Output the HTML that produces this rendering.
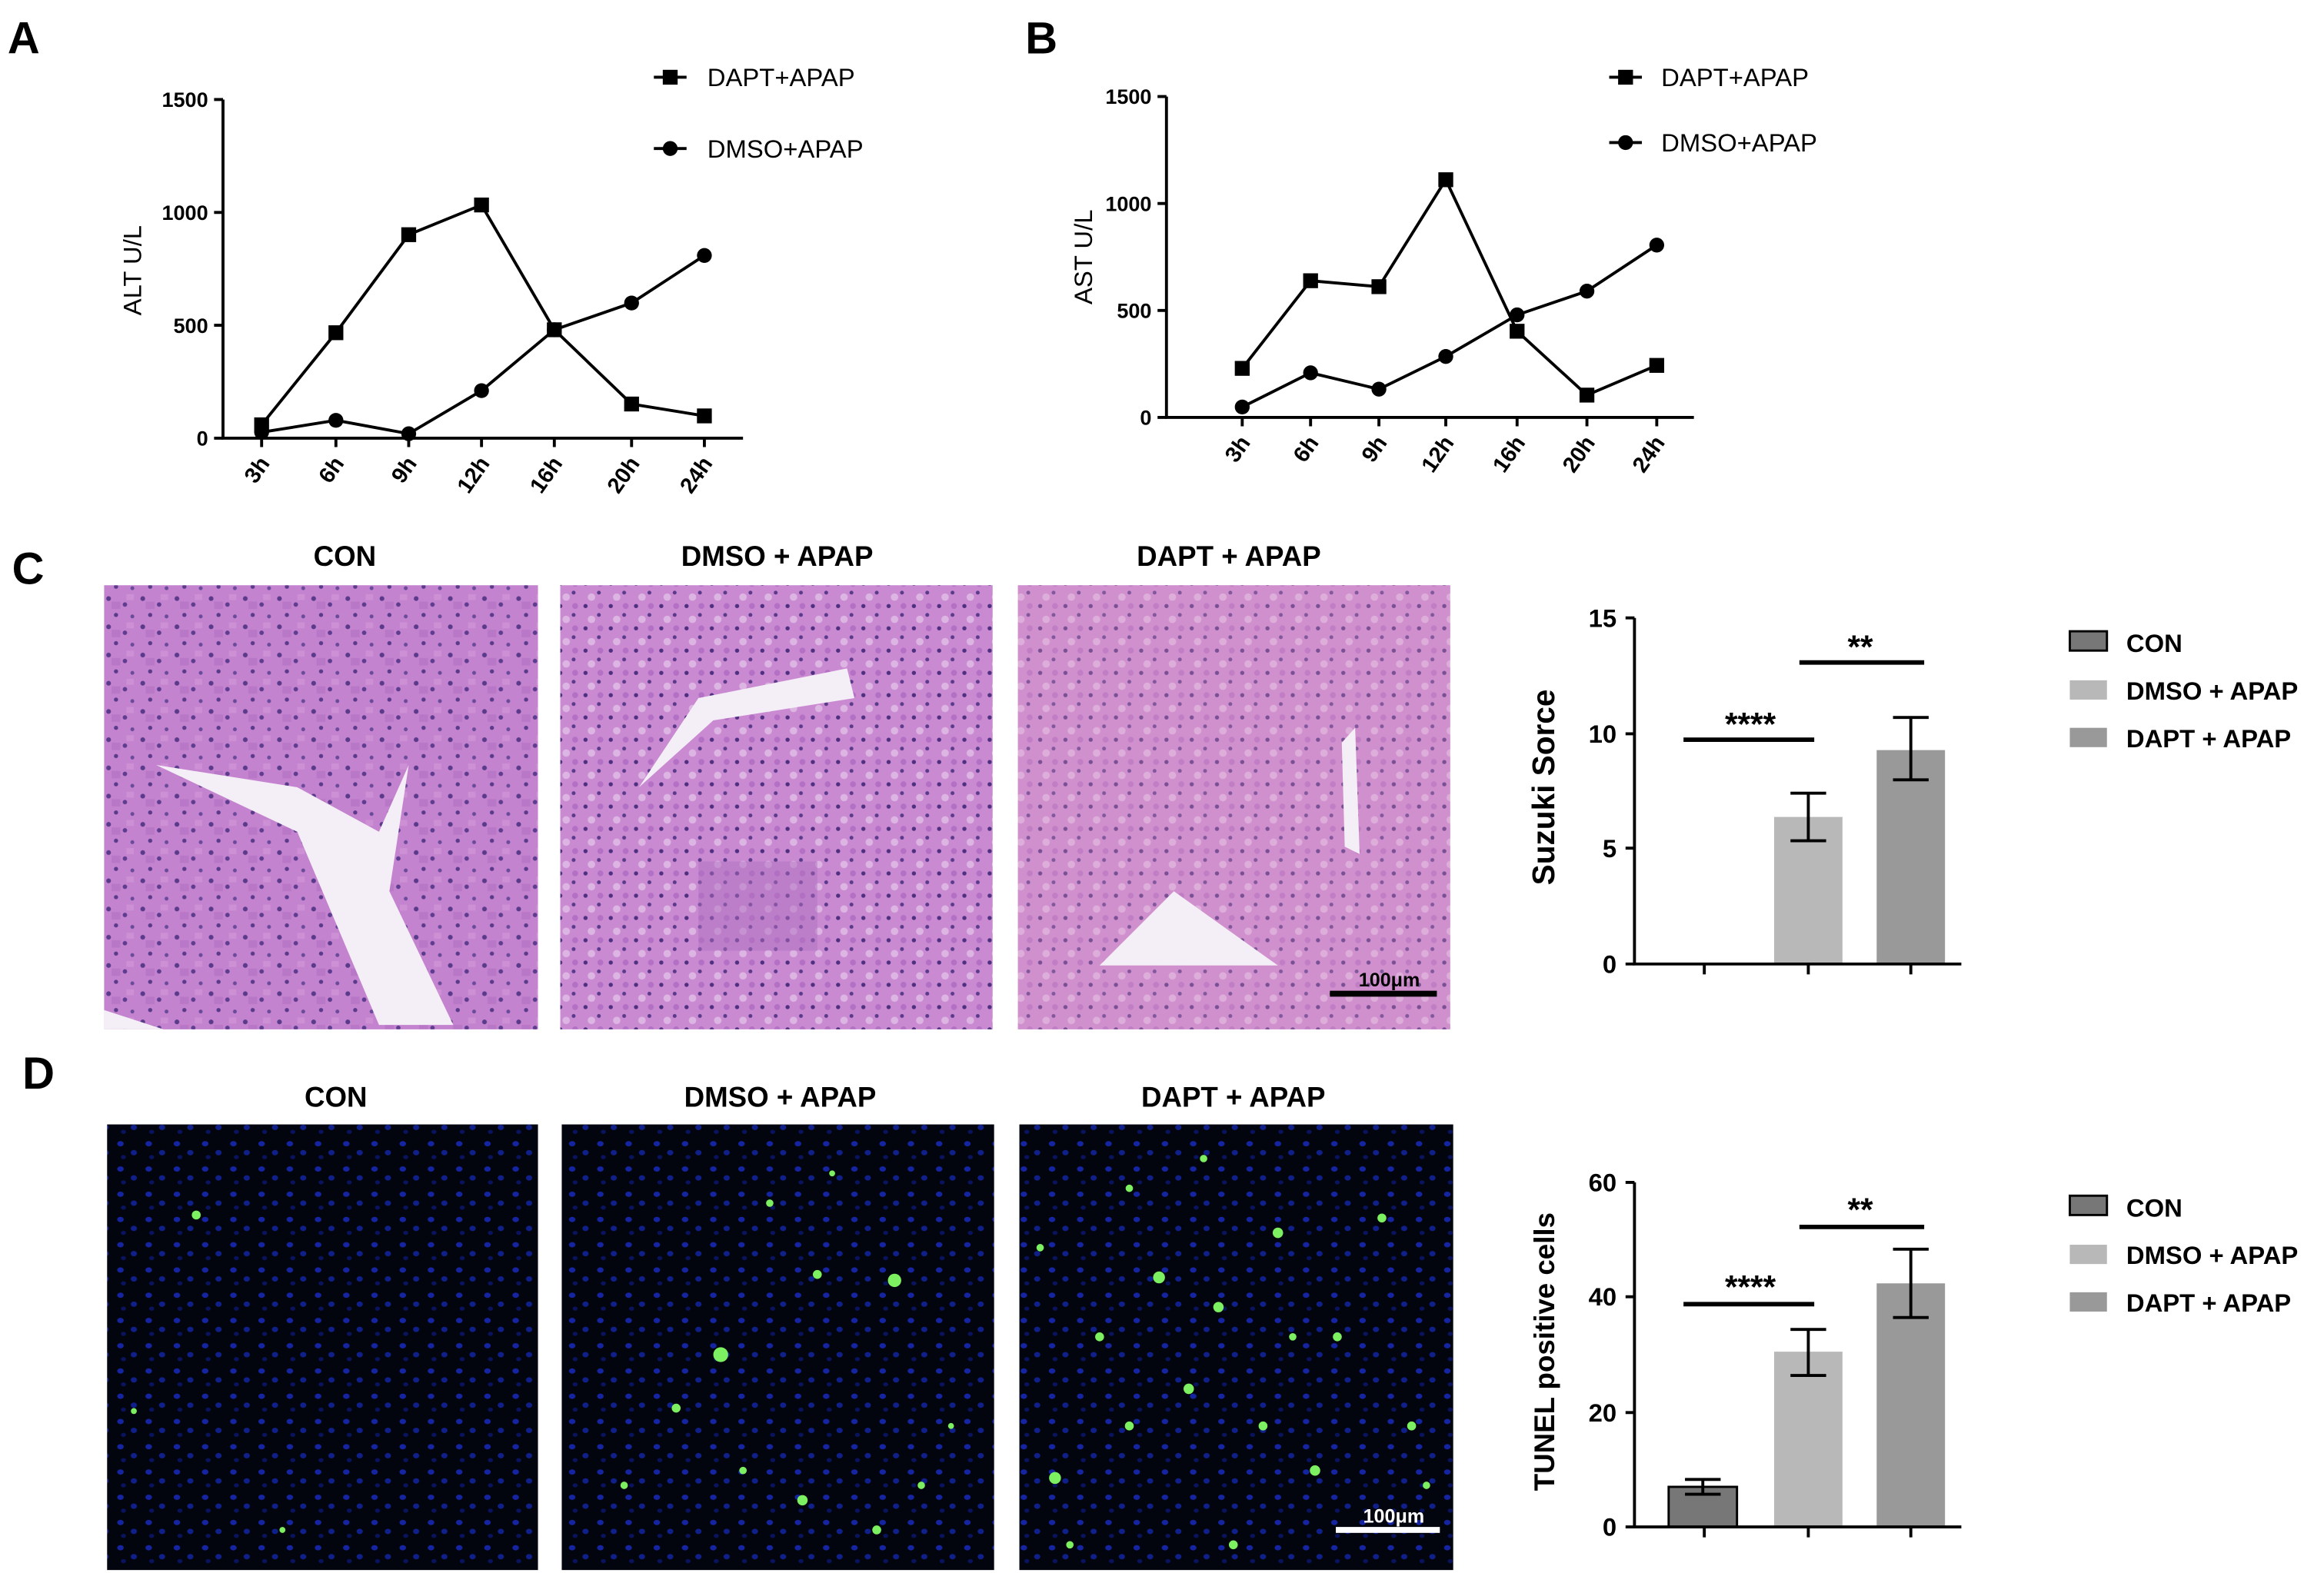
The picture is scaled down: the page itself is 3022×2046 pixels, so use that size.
<!DOCTYPE html>
<html><head><meta charset="utf-8"><style>
html,body{margin:0;padding:0;background:#fff;}
svg{display:block;}
text{font-family:"Liberation Sans",Arial,sans-serif;}
</style></head><body>
<svg width="3022" height="2046" viewBox="0 0 1564 1059" xmlns="http://www.w3.org/2000/svg">
<defs>
<pattern id="he" width="23" height="19" patternUnits="userSpaceOnUse">
<rect width="23" height="19" fill="#c483cf"/>
<circle cx="4" cy="4" r="1.6" fill="#5a3a8a"/><circle cx="15" cy="8" r="1.5" fill="#5e3d90"/>
<circle cx="9" cy="15" r="1.4" fill="#5a3a8a"/><circle cx="20" cy="16" r="1.3" fill="#6a4a9a"/>
<rect x="6" y="6" width="6" height="5" fill="#b26fc2" opacity=".6"/>
<rect x="16" y="1" width="5" height="4" fill="#d49ad9" opacity=".6"/>
</pattern>
<pattern id="he2" width="17" height="15" patternUnits="userSpaceOnUse">
<rect width="17" height="15" fill="#c98ad2"/>
<circle cx="3" cy="3" r="1.4" fill="#4e2f80"/><circle cx="12" cy="9" r="1.3" fill="#5a3a8a"/>
<circle cx="7" cy="12" r="2.5" fill="#e6c8ea" opacity=".7"/><circle cx="13" cy="3" r="2" fill="#a65fbd" opacity=".6"/>
</pattern>
<pattern id="fl" width="19" height="17" patternUnits="userSpaceOnUse">
<rect width="19" height="17" fill="#02040e"/>
<ellipse cx="5" cy="5" rx="2.2" ry="1.8" fill="#1524a0"/><ellipse cx="14" cy="11" rx="2.1" ry="1.8" fill="#10208a"/>
<ellipse cx="7" cy="14" rx="1.7" ry="1.4" fill="#0c1a80" opacity=".7"/>
</pattern>
</defs>
<rect width="1564" height="1059" fill="#fff"/>
<g font-weight="bold" font-size="30" fill="#000">
<text x="5" y="36">A</text><text x="690" y="36">B</text><text x="8" y="393">C</text><text x="15" y="733">D</text></g>

<!-- Panel A -->
<g stroke="#000" stroke-width="2" fill="none">
<path d="M150 67V295H500"/>
<path d="M144 67H150M144 143H150M144 219H150M144 295H150"/>
<path d="M176 295v6M226 295v6M275 295v6M324 295v6M373 295v6M425 295v6M474 295v6"/>
<polyline points="176,286 226,224 275,158 324,138 373,222 425,272 474,280"/>
<polyline points="176,291 226,283 275,292 324,263 373,222 425,204 474,172"/>
<path d="M440 52h22M440 100h22"/>
</g>
<g fill="#000">
<rect x="171" y="281" width="10" height="10"/><rect x="221" y="219" width="10" height="10"/><rect x="270" y="153" width="10" height="10"/><rect x="319" y="133" width="10" height="10"/><rect x="368" y="217" width="10" height="10"/><rect x="420" y="267" width="10" height="10"/><rect x="469" y="275" width="10" height="10"/>
<circle cx="176" cy="291" r="5"/><circle cx="226" cy="283" r="5"/><circle cx="275" cy="292" r="5"/><circle cx="324" cy="263" r="5"/><circle cx="373" cy="222" r="5"/><circle cx="425" cy="204" r="5"/><circle cx="474" cy="172" r="5"/>
<rect x="446" y="47" width="10" height="10"/><circle cx="451" cy="100" r="5"/>
</g>
<g font-size="14" font-weight="bold" text-anchor="end">
<text x="140" y="72">1500</text><text x="140" y="148">1000</text><text x="140" y="224">500</text><text x="140" y="300">0</text></g>
<g font-size="15" font-weight="bold" text-anchor="end">
<text transform="translate(182,312) rotate(-55)">3h</text><text transform="translate(232,312) rotate(-55)">6h</text><text transform="translate(281,312) rotate(-55)">9h</text><text transform="translate(330,312) rotate(-55)">12h</text><text transform="translate(379,312) rotate(-55)">16h</text><text transform="translate(431,312) rotate(-55)">20h</text><text transform="translate(480,312) rotate(-55)">24h</text></g>
<text transform="translate(95,182) rotate(-90)" font-size="17" text-anchor="middle">ALT U/L</text>
<text x="476" y="58" font-size="17">DAPT+APAP</text><text x="476" y="106" font-size="17">DMSO+APAP</text>

<!-- Panel B -->
<g stroke="#000" stroke-width="2" fill="none">
<path d="M785 65V281H1140"/>
<path d="M779 65H785M779 137H785M779 209H785M779 281H785"/>
<path d="M836 281v6M882 281v6M928 281v6M973 281v6M1021 281v6M1068 281v6M1115 281v6"/>
<polyline points="836,248 882,189 928,193 973,121 1021,223 1068,266 1115,246"/>
<polyline points="836,274 882,251 928,262 973,240 1021,212 1068,196 1115,165"/>
<path d="M1083 52h22M1083 96h22"/>
</g>
<g fill="#000">
<rect x="831" y="243" width="10" height="10"/><rect x="877" y="184" width="10" height="10"/><rect x="923" y="188" width="10" height="10"/><rect x="968" y="116" width="10" height="10"/><rect x="1016" y="218" width="10" height="10"/><rect x="1063" y="261" width="10" height="10"/><rect x="1110" y="241" width="10" height="10"/>
<circle cx="836" cy="274" r="5"/><circle cx="882" cy="251" r="5"/><circle cx="928" cy="262" r="5"/><circle cx="973" cy="240" r="5"/><circle cx="1021" cy="212" r="5"/><circle cx="1068" cy="196" r="5"/><circle cx="1115" cy="165" r="5"/>
<rect x="1089" y="47" width="10" height="10"/><circle cx="1094" cy="96" r="5"/>
</g>
<g font-size="14" font-weight="bold" text-anchor="end">
<text x="775" y="70">1500</text><text x="775" y="142">1000</text><text x="775" y="214">500</text><text x="775" y="286">0</text></g>
<g font-size="15" font-weight="bold" text-anchor="end">
<text transform="translate(842,298) rotate(-55)">3h</text><text transform="translate(888,298) rotate(-55)">6h</text><text transform="translate(934,298) rotate(-55)">9h</text><text transform="translate(979,298) rotate(-55)">12h</text><text transform="translate(1027,298) rotate(-55)">16h</text><text transform="translate(1074,298) rotate(-55)">20h</text><text transform="translate(1121,298) rotate(-55)">24h</text></g>
<text transform="translate(735,173) rotate(-90)" font-size="17" text-anchor="middle">AST U/L</text>
<text x="1118" y="58" font-size="17">DAPT+APAP</text><text x="1118" y="102" font-size="17">DMSO+APAP</text>

<!-- Panel C images -->
<g font-size="19" font-weight="bold" text-anchor="middle">
<text x="232" y="381">CON</text><text x="523" y="381">DMSO + APAP</text><text x="827" y="381">DAPT + APAP</text>
<text x="226" y="745">CON</text><text x="525" y="745">DMSO + APAP</text><text x="830" y="745">DAPT + APAP</text></g>
<rect x="70" y="394" width="292" height="299" fill="url(#he)"/>
<path d="M105 515 L200 560 L255 690 L305 690 L262 600 L275 515 L255 560 L200 530 Z" fill="#f4eef6"/>
<path d="M70 680 L110 693 L70 693Z" fill="#f4eef6"/>
<rect x="377" y="394" width="291" height="299" fill="url(#he2)"/>
<path d="M430 530 L470 470 L570 450 L575 470 L480 485 Z" fill="#f4eef6"/>
<rect x="470" y="580" width="80" height="60" fill="#b070c0" opacity=".5"/>
<rect x="685" y="394" width="291" height="299" fill="url(#he2)"/>
<rect x="685" y="394" width="291" height="299" fill="#e0a0c8" opacity=".3"/>
<path d="M740 650 L790 600 L860 650 Z" fill="#f4eef6"/>
<path d="M903 500 L912 490 L915 575 L905 570Z" fill="#f4eef6"/>
<rect x="895" y="667" width="72" height="4" fill="#000"/>
<text x="935" y="664" font-size="13" font-weight="bold" text-anchor="middle">100μm</text>

<!-- Panel D images -->
<rect x="72" y="757" width="290" height="300" fill="url(#fl)"/>
<rect x="378" y="757" width="291" height="300" fill="url(#fl)"/>
<rect x="686" y="757" width="292" height="300" fill="url(#fl)"/>
<g fill="#7cf060">
<circle cx="132" cy="818" r="3"/><circle cx="90" cy="950" r="2"/><circle cx="190" cy="1030" r="2"/>
<circle cx="485" cy="912" r="5"/><circle cx="602" cy="862" r="4.5"/><circle cx="550" cy="858" r="3"/><circle cx="518" cy="810" r="2.5"/><circle cx="540" cy="1010" r="3.5"/><circle cx="455" cy="948" r="3"/><circle cx="590" cy="1030" r="3"/><circle cx="420" cy="1000" r="2.5"/><circle cx="640" cy="960" r="2"/><circle cx="500" cy="990" r="2.5"/><circle cx="560" cy="790" r="2"/><circle cx="620" cy="1000" r="2.5"/>
<circle cx="710" cy="995" r="4"/><circle cx="780" cy="860" r="4"/><circle cx="820" cy="880" r="3.5"/><circle cx="860" cy="830" r="3.5"/><circle cx="900" cy="900" r="3"/><circle cx="740" cy="900" r="3"/><circle cx="800" cy="935" r="3.5"/><circle cx="850" cy="960" r="3"/><circle cx="950" cy="960" r="3"/><circle cx="885" cy="990" r="3.5"/><circle cx="760" cy="800" r="2.5"/><circle cx="700" cy="840" r="2.5"/><circle cx="930" cy="820" r="3"/><circle cx="830" cy="1040" r="3"/><circle cx="720" cy="1040" r="2.5"/><circle cx="960" cy="1000" r="2.5"/><circle cx="810" cy="780" r="2.5"/><circle cx="760" cy="960" r="3"/><circle cx="870" cy="900" r="2.5"/>
</g>
<rect x="899" y="1028" width="70" height="4" fill="#fff"/>
<text x="938" y="1025" font-size="13" font-weight="bold" text-anchor="middle" fill="#fff">100μm</text>

<!-- Bar C -->
<rect x="1194" y="550" width="46" height="99" fill="#b8b8b8"/>
<rect x="1263" y="505" width="46" height="144" fill="#999"/>
<g stroke="#000" stroke-width="2" fill="none">
<path d="M1100 416V649H1320"/>
<path d="M1094 416H1100M1094 494H1100M1094 571H1100M1094 649H1100"/>
<path d="M1147 649v7M1217 649v7M1286 649v7"/>
<path d="M1217 534v32M1205 534h24M1205 566h24"/>
<path d="M1286 483v42M1274 483h24M1274 525h24"/>
</g>
<path d="M1133 498H1221M1211 446H1295" stroke="#000" stroke-width="3"/>
<g font-size="17" font-weight="bold" text-anchor="end">
<text x="1088" y="422">15</text><text x="1088" y="500">10</text><text x="1088" y="577">5</text><text x="1088" y="655">0</text></g>
<text x="1178" y="495" font-size="22" font-weight="bold" text-anchor="middle">****</text>
<text x="1252" y="443" font-size="22" font-weight="bold" text-anchor="middle">**</text>
<text transform="translate(1046,530) rotate(-90)" font-size="21" font-weight="bold" text-anchor="middle">Suzuki Sorce</text>
<g stroke="#000" stroke-width="1.5">
<rect x="1393" y="425" width="25" height="13" fill="#777"/><rect x="1393" y="458" width="25" height="13" fill="#b8b8b8" stroke="none"/><rect x="1393" y="490" width="25" height="13" fill="#999" stroke="none"/></g>
<g font-size="17" font-weight="bold">
<text x="1431" y="439">CON</text><text x="1431" y="471">DMSO + APAP</text><text x="1431" y="503">DAPT + APAP</text></g>

<!-- Bar D -->
<rect x="1123" y="1001" width="46" height="27" fill="#777" stroke="#000" stroke-width="1.5"/>
<rect x="1194" y="910" width="46" height="118" fill="#b8b8b8"/>
<rect x="1263" y="864" width="46" height="164" fill="#999"/>
<g stroke="#000" stroke-width="2" fill="none">
<path d="M1100 796V1028H1320"/>
<path d="M1094 796H1100M1094 873H1100M1094 951H1100M1094 1028H1100"/>
<path d="M1147 1028v7M1217 1028v7M1286 1028v7"/>
<path d="M1146 996v10M1134 996h24M1134 1006h24"/>
<path d="M1217 895v31M1205 895h24M1205 926h24"/>
<path d="M1286 841v46M1274 841h24M1274 887h24"/>
</g>
<path d="M1133 878H1221M1211 826H1295" stroke="#000" stroke-width="3"/>
<g font-size="17" font-weight="bold" text-anchor="end">
<text x="1088" y="802">60</text><text x="1088" y="879">40</text><text x="1088" y="957">20</text><text x="1088" y="1034">0</text></g>
<text x="1178" y="874" font-size="22" font-weight="bold" text-anchor="middle">****</text>
<text x="1252" y="822" font-size="22" font-weight="bold" text-anchor="middle">**</text>
<text transform="translate(1046,910) rotate(-90)" font-size="19" font-weight="bold" text-anchor="middle">TUNEL positive cells</text>
<g stroke="#000" stroke-width="1.5">
<rect x="1393" y="805" width="25" height="13" fill="#777"/><rect x="1393" y="838" width="25" height="13" fill="#b8b8b8" stroke="none"/><rect x="1393" y="870" width="25" height="13" fill="#999" stroke="none"/></g>
<g font-size="17" font-weight="bold">
<text x="1431" y="819">CON</text><text x="1431" y="851">DMSO + APAP</text><text x="1431" y="883">DAPT + APAP</text></g>
</svg>
</body></html>
